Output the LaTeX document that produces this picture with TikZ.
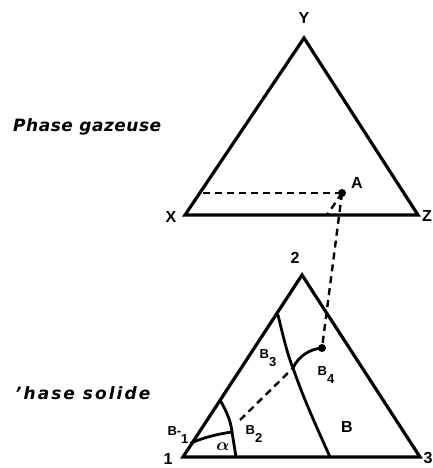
\documentclass[tikz,border=0pt]{standalone}
\usepackage{fontspec}
\setmainfont{Liberation Serif}
\newfontfamily\labfont{Liberation Sans}
\newfontfamily\handfont{DejaVu Sans}
\begin{document}
\begin{tikzpicture}[x=1pt,y=-1pt,
  side/.style={line width=3.2pt, line join=miter, line cap=round},
  inner/.style={line width=2.8pt, line cap=round},
  dashline/.style={line width=2.4pt, dash pattern=on 7pt off 5pt},
  vlab/.style={font=\labfont\bfseries\fontsize{16}{16}\selectfont, inner sep=0pt},
  blab/.style={font=\labfont\bfseries\fontsize{13}{13}\selectfont, inner sep=0pt},
  hand/.style={font=\handfont\bfseries\itshape\fontsize{17}{17}\selectfont, inner sep=0pt, anchor=west},
  dot/.style={circle, fill=black, inner sep=0pt, minimum size=8pt}]
\useasboundingbox (0,0) rectangle (433,468);
% top triangle
\coordinate (X) at (185,215);
\coordinate (Y) at (304,38);
\coordinate (Z) at (418,215);
\draw[side] (X) -- (Y) -- (Z) -- cycle;
\node[vlab] (Xl) at (171,217) {X};
\node[vlab] (Yl) at (304,18) {Y};
\node[vlab] (Zl) at (427,216) {Z};
\node[dot] (A) at (342,193) {};
\node[vlab] (Al) at (357,183) {A};
\coordinate (pXY) at (200,193);
\coordinate (pXZ) at (327,215);
\draw[dashline] (A.center) -- (pXY);
\draw[dashline] (A.center) -- (pXZ);
\node[hand] (tg) at (13,127) {\addfontfeature{LetterSpace=3}Phase gazeuse};
% bottom triangle
\coordinate (P1) at (183,457);
\coordinate (P2) at (302,275);
\coordinate (P3) at (420,457);
\draw[side] (P1) -- (P2) -- (P3) -- cycle;
\node[vlab] (l1) at (168,459) {1};
\node[vlab] (l2) at (295,258) {2};
\node[vlab] (l3) at (428,458) {3};
\node[dot] (B4) at (322,348) {};
\draw[dashline] (A.center) -- (B4.center);
% inner curves
\coordinate (c3a) at (278,315);
\coordinate (J) at (293,368);
\coordinate (c3b) at (330,457);
\draw[inner] (c3a) .. controls (284,340) and (288,356) .. (J) .. controls (304,400) and (318,430) .. (c3b);
\draw[inner] (J) .. controls (298,357) and (309,349) .. (B4.center);
\coordinate (c2a) at (220,400);
\coordinate (K) at (232,432);
\coordinate (c2b) at (236,457);
\draw[inner] (c2a) .. controls (227,412) and (231,422) .. (K) -- (c2b);
\coordinate (c1a) at (191,443);
\draw[inner] (c1a) .. controls (205,437) and (218,434) .. (K);
\coordinate (dB2) at (240,420);
\draw[dashline] (dB2) -- (J);
% labels
\node[blab] (b3) at (268,358) {B\raisebox{-1.1ex}{3}};
\node[blab] (b4) at (326,375) {B\raisebox{-1.1ex}{4}};
\node[blab] (b2) at (254,434) {B\raisebox{-1.1ex}{2}};
\node[blab] (b1) at (178,435) {B-\raisebox{-1.1ex}{1}};
\node[font=\fontsize{17}{17}\selectfont\boldmath, inner sep=0pt] (al) at (223,447) {$\alpha$};
\node[vlab] (bb) at (347,427) {B};
\node[hand] (ts) at (15,393) {\addfontfeature{LetterSpace=12}’hase solide};
\end{tikzpicture}
\end{document}
